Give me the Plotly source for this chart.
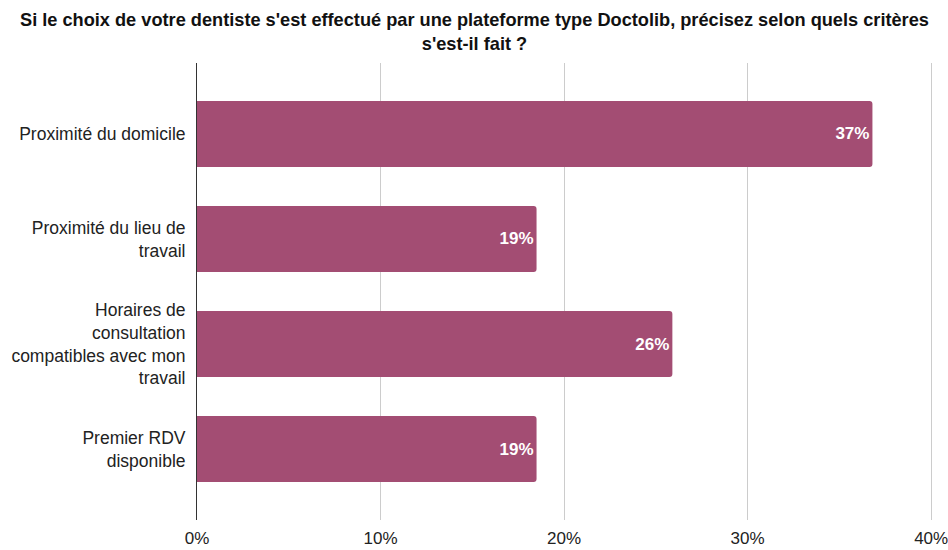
import plotly.graph_objects as go

categories = [
    "Proximité du domicile",
    "Proximité du lieu de<br>travail",
    "Horaires de<br>consultation<br>compatibles avec mon<br>travail",
    "Premier RDV<br>disponible",
]
values = [0.368, 0.185, 0.259, 0.185]
labels = ["37%", "19%", "26%", "19%"]
x_ticks = [0, 0.1, 0.2, 0.3, 0.4]
x_tick_labels = ["0%", "10%", "20%", "30%", "40%"]

title = ("Si le choix de votre dentiste s'est effectué par une plateforme type Doctolib, "
         "précisez selon quels critères<br>s'est-il fait ?")

FONT = "Liberation Sans, Arial, Helvetica, sans-serif"

W, H = 948, 550
L, R, T, B = 197, 15, 63, 30
pw = W - L - R
ph = H - T - B

fig = go.Figure(go.Bar(
    y=categories, x=values, orientation="h",
    marker=dict(color="#A34D73", line=dict(width=0)),
    width=0.63,
    text=labels, textposition="inside", insidetextanchor="end",
    textfont=dict(color="white", size=17, family=FONT, weight="bold"),
    cliponaxis=False,
))

fig.update_layout(
    width=W, height=H,
    margin=dict(l=L, r=R, t=T, b=B, autoexpand=False),
    plot_bgcolor="white", paper_bgcolor="white",
    barcornerradius=3,
    showlegend=False,
    font=dict(family=FONT, size=17, color="#222"),
    xaxis=dict(range=[0, 0.401], tickvals=x_ticks, ticktext=x_tick_labels,
               showgrid=True, gridcolor="#cccccc", gridwidth=1,
               zeroline=False, showline=False, ticks="", ticklabelstandoff=6,
               automargin=False, ticklabeloverflow="allow",
               tickfont=dict(size=17, color="#222")),
    yaxis=dict(range=[3.676, -0.676], showgrid=False, zeroline=False,
               showline=True, linecolor="#333333", linewidth=1,
               ticks="", ticklabelstandoff=7, automargin=False,
               tickfont=dict(size=17.5, color="#222")),
    annotations=[dict(
        text=title, showarrow=False,
        xref="paper", yref="paper",
        x=(W / 2 - L) / pw, y=1 + (T - 8) / ph,
        xanchor="center", yanchor="top", align="center",
        font=dict(family=FONT, size=18.2, color="#111", weight="bold"),
    )],
)

fig.write_html(
    "out.html",
    config={"displayModeBar": False},
    post_script="document.body.style.margin='0';document.body.style.overflow='hidden';",
)
